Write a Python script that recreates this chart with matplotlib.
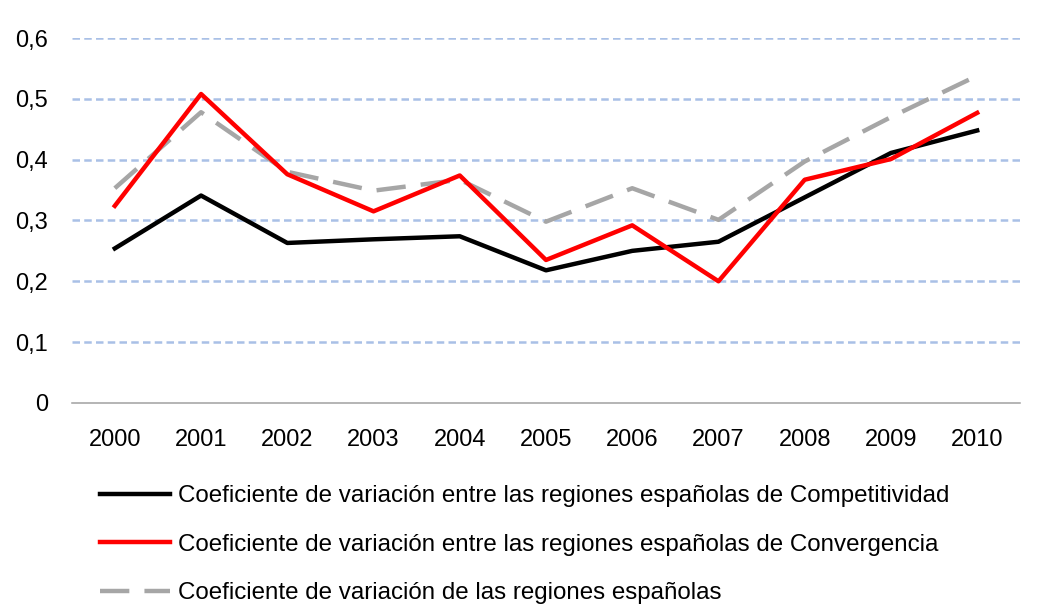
import matplotlib
matplotlib.use("Agg")
import matplotlib.pyplot as plt
import numpy as np

plt.rcParams['font.family'] = ['Liberation Sans', 'DejaVu Sans']

years = ["2000", "2001", "2002", "2003", "2004", "2005", "2006", "2007", "2008", "2009", "2010"]
competitividad = [0.254, 0.341, 0.263, 0.269, 0.274, 0.218, 0.250, 0.265, 0.338, 0.411, 0.448]
convergencia = [0.324, 0.508, 0.376, 0.315, 0.374, 0.235, 0.292, 0.200, 0.367, 0.401, 0.477]
total = [0.353, 0.478, 0.380, 0.349, 0.367, 0.298, 0.353, 0.301, 0.397, 0.470, 0.538]
labels = [
    "Coeficiente de variación entre las regiones españolas de Competitividad",
    "Coeficiente de variación entre las regiones españolas de Convergencia",
    "Coeficiente de variación de las regiones españolas",
]
yticks = [0, 0.1, 0.2, 0.3, 0.4, 0.5, 0.6]

fig = plt.figure(figsize=(10.39, 6.04), dpi=100)
ax = fig.add_axes([0.069, 0.333, 0.913, 0.604])

x = np.arange(len(years))
ax.plot(x, competitividad, color="black", lw=3.2, label=labels[0], zorder=3)
ax.plot(x, convergencia, color="#FF0000", lw=3.2, label=labels[1], zorder=4)
ax.plot(x, total, color="#A6A6A6", lw=3.2, dashes=(6.6, 3.4), label=labels[2], zorder=2)

ax.set_xlim(-0.5, len(years) - 0.5)
ax.set_ylim(0, 0.6)
ax.set_xticks(x)
ax.set_xticklabels(years, fontsize=17)
ax.set_yticks(yticks)
ax.set_yticklabels(["0" if v == 0 else f"{v:.1f}".replace(".", ",") for v in yticks], fontsize=17)
ax.tick_params(axis="both", length=0)
ax.tick_params(axis="x", pad=19)
ax.tick_params(axis="y", pad=17)

for v in yticks[1:]:
    ax.axhline(v, color="#A9C0E6", lw=1.8, dashes=(3.0, 1.7), zorder=1)

for s in ["top", "right", "left"]:
    ax.spines[s].set_visible(False)
ax.spines["bottom"].set_color("#A0A0A0")
ax.spines["bottom"].set_linewidth(1.1)
ax.spines["bottom"].set_zorder(1)

fig.legend(loc="upper left", bbox_to_anchor=(0.0963, 0.197), frameon=False,
           fontsize=17.4, handlelength=2.9, handletextpad=0.34, labelspacing=1.1,
           borderaxespad=0, borderpad=0)

fig.savefig("out.png", dpi=100)
